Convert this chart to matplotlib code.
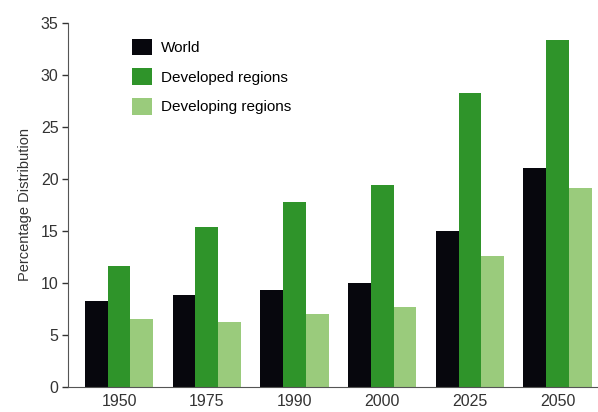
import numpy as np
import matplotlib
matplotlib.use('Agg')
import matplotlib.pyplot as plt

years = ['1950', '1975', '1990', '2000', '2025', '2050']
world = [8.3, 8.8, 9.3, 10.0, 15.0, 21.1]
developed = [11.6, 15.4, 17.8, 19.4, 28.3, 33.4]
developing = [6.5, 6.2, 7.0, 7.7, 12.6, 19.1]

series_names = ['World', 'Developed regions', 'Developing regions']
colors = ['#07070d', '#2f942a', '#9acb7c']

plt.rcParams['font.family'] = ['Liberation Sans Narrow', 'Liberation Sans', 'DejaVu Sans']

fig = plt.figure(figsize=(5.98, 4.12), dpi=100)
ax = fig.add_axes([0.114, 0.061, 0.886, 0.883])

x = np.arange(len(years))
w = 0.26
for i, (vals, name, c) in enumerate(zip([world, developed, developing], series_names, colors)):
    ax.bar(x + (i - 1) * w, vals, width=w, color=c, label=name)

ax.set_xlim(-0.58, 5.46)
ax.set_ylim(0, 35)
ax.set_yticks(range(0, 36, 5))
ax.set_xticks(x)
ax.set_xticklabels(years)
ax.tick_params(axis='x', length=0, pad=5, labelsize=11.5, colors='#333333')
ax.tick_params(axis='y', length=4, width=1, labelsize=11.5, colors='#333333', pad=3)
for s in ['top', 'right']:
    ax.spines[s].set_visible(False)
ax.spines['left'].set_color('#555555')
ax.spines['bottom'].set_color('#555555')
ax.set_ylabel('Percentage Distribution', fontsize=10.5, color='#333333', labelpad=6)

ax.legend(loc='upper left', bbox_to_anchor=(0.095, 0.995), frameon=False,
          fontsize=11, handlelength=1.3, handleheight=1.3, labelspacing=0.85,
          handletextpad=0.6)

fig.savefig('out.png', dpi=100)
